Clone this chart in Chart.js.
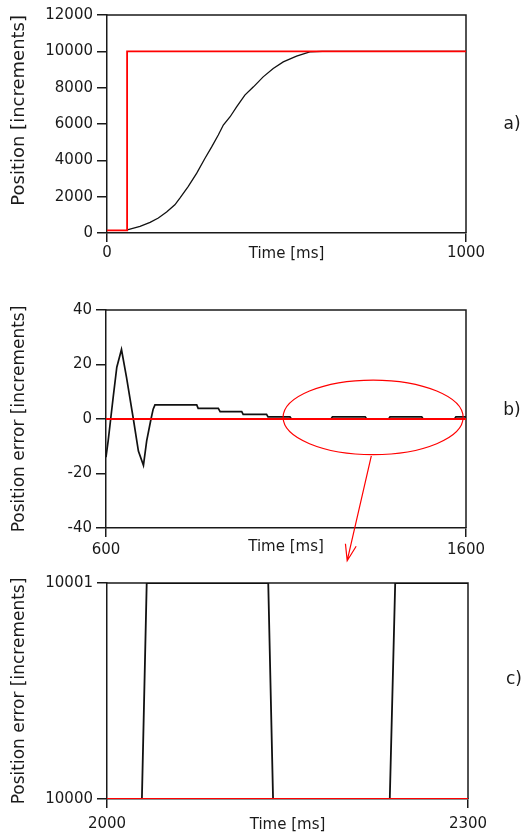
<!DOCTYPE html>
<html>
<head>
<meta charset="utf-8">
<script src="https://cdn.jsdelivr.net/npm/chart.js@4.4.1/dist/chart.umd.min.js"></script>
<style>
body{margin:0;background:#fff;}
#wrap{position:relative;width:530px;height:836px;}
canvas{position:absolute;left:0;}
</style>
</head>
<body>
<div id="wrap">
<canvas id="grafA" width="530" height="270" style="top:0px"></canvas>
<canvas id="grafB" width="530" height="275" style="top:290px"></canvas>
<canvas id="grafC" width="530" height="266" style="top:570px"></canvas>
</div>
<script>
// a) position, setpoint step and response
var aTime = [57, 59, 92, 120, 143, 166, 189, 203, 226, 250, 273, 292, 310, 324, 343, 361, 384, 408, 435, 463, 491, 528, 565, 600, 1000];
var aPos = [180, 181, 362, 582, 823, 1152, 1553, 1921, 2558, 3293, 4116, 4753, 5395, 5944, 6400, 6948, 7591, 8046, 8595, 9056, 9418, 9731, 9967, 10000, 10000];
var aRefTime = [0, 56, 56, 1000];
var aRefPos = [150, 150, 10000, 10000];
var aXTicks = [0, 1000];
var aYTicks = [0, 2000, 4000, 6000, 8000, 10000, 12000];

// b) position error
var bTime = [600, 606, 613, 620, 630, 643, 657, 676, 690, 704, 713, 725, 731, 736, 852, 856, 912, 917, 977, 981,
             1046, 1050, 1111, 1115, 1225, 1229, 1320, 1324, 1385, 1389, 1477, 1481, 1568, 1572, 1600];
var bErr = [-14, -8, 0, 8, 19, 25.5, 15.3, 0, -11.8, -17, -8, 0, 3.6, 5.2, 5.2, 3.9, 3.9, 2.7, 2.7, 1.7,
            1.7, 0.8, 0.8, 0, 0, 0.8, 0.8, 0, 0, 0.8, 0.8, 0, 0, 0.8, 0.8];
var bRefTime = [600, 1600];
var bRefErr = [0, 0];
var bXTicks = [600, 1600];
var bYTicks = [-40, -20, 0, 20, 40];
// zoomed region (data units)
var bZoomCenter = [1342, 0.6];
var bZoomRadius = [250, 13.7];
var bArrowFrom = [1337, -13.5];
var bArrowTo = [1270, -52];

// c) detail
var cTime = [2000, 2029, 2033, 2134, 2138, 2235, 2239.5, 2300];
var cPos = [10000, 10000, 10001, 10001, 10000, 10000, 10001, 10001];
var cRefTime = [2000, 2300];
var cRefPos = [10000, 10000];
var cXTicks = [2000, 2300];
var cYTicks = [10000, 10001];

var fuente = {family: "DejaVu Sans", size: 15};
var tinta = "#1a1a1a";

function puntos(xs, ys) {
    return xs.map(function (x, i) { return {x: x, y: ys[i]} })
}
function fijarTicks(valores) {
    return function (scale) {
        scale.ticks = valores.map(function (v) { return {value: v} })
    }
}

// top and right border of the plot box
var marco = {
    id: "marco",
    beforeDatasetsDraw: function (chart) {
        var a = chart.chartArea, ctx = chart.ctx;
        ctx.save();
        ctx.strokeStyle = tinta;
        ctx.lineWidth = 1.5;
        ctx.beginPath();
        ctx.moveTo(a.left, a.top);
        ctx.lineTo(a.right, a.top);
        ctx.lineTo(a.right, a.bottom);
        ctx.stroke();
        ctx.restore();
    }
};

// "a)", "b)", "c)"
var etiqueta = {
    id: "etiqueta",
    afterDraw: function (chart, args, opts) {
        var a = chart.chartArea, ctx = chart.ctx;
        ctx.save();
        ctx.fillStyle = tinta;
        ctx.font = "17px 'DejaVu Sans'";
        ctx.textAlign = "center";
        ctx.textBaseline = "middle";
        ctx.fillText(opts.text, a.right + 46, (a.top + a.bottom) / 2 + opts.dy);
        ctx.restore();
    }
};

// ellipse + arrow on chart b
var lupa = {
    id: "lupa",
    afterDatasetsDraw: function (chart, args, opts) {
        if (!opts.center) return;
        var xs = chart.scales.x, ys = chart.scales.y, ctx = chart.ctx;
        var cx = xs.getPixelForValue(opts.center[0]);
        var cy = ys.getPixelForValue(opts.center[1]);
        var rx = Math.abs(xs.getPixelForValue(opts.center[0] + opts.radius[0]) - cx);
        var ry = Math.abs(ys.getPixelForValue(opts.center[1] + opts.radius[1]) - cy);
        var x0 = xs.getPixelForValue(opts.from[0]), y0 = ys.getPixelForValue(opts.from[1]);
        var x1 = xs.getPixelForValue(opts.to[0]), y1 = ys.getPixelForValue(opts.to[1]);
        var ang = Math.atan2(y1 - y0, x1 - x0);
        ctx.save();
        ctx.strokeStyle = "#ff0000";
        ctx.lineWidth = 1.2;
        ctx.beginPath();
        ctx.ellipse(cx, cy, rx, ry, 0, 0, Math.PI * 2);
        ctx.stroke();
        ctx.beginPath();
        ctx.moveTo(x0, y0);
        ctx.lineTo(x1, y1);
        ctx.moveTo(x1 + 17 * Math.cos(ang + Math.PI - 0.33), y1 + 17 * Math.sin(ang + Math.PI - 0.33));
        ctx.lineTo(x1, y1);
        ctx.lineTo(x1 + 17 * Math.cos(ang + Math.PI + 0.33), y1 + 17 * Math.sin(ang + Math.PI + 0.33));
        ctx.stroke();
        ctx.restore();
    }
};

function opciones(cfg) {
    var borde = {color: tinta, width: 1.5};
    return {
        responsive: false,
        animation: false,
        layout: {padding: {left: 0, right: cfg.right, top: cfg.top, bottom: 0}},
        elements: {point: {radius: 0}, line: {tension: 0}},
        plugins: {
            legend: {display: false},
            tooltip: {enabled: false},
            etiqueta: {text: cfg.label, dy: cfg.dy},
            lupa: cfg.lupa || {}
        },
        scales: {
            x: {
                type: "linear", min: cfg.xMin, max: cfg.xMax,
                afterBuildTicks: fijarTicks(cfg.xTicks),
                afterFit: function (s) { s.height = cfg.xHeight },
                grid: {drawOnChartArea: false, drawTicks: true, tickLength: 9, color: tinta, lineWidth: 1.5},
                border: borde,
                ticks: {color: tinta, font: fuente, padding: cfg.xPad, maxRotation: 0, autoSkip: false,
                        callback: function (v) { return String(v) }},
                title: {display: true, text: "Time [ms]", color: tinta, font: fuente,
                        padding: {top: 0, bottom: cfg.titlePad}}
            },
            y: {
                type: "linear", min: cfg.yMin, max: cfg.yMax,
                afterBuildTicks: fijarTicks(cfg.yTicks),
                afterFit: function (s) { s.width = cfg.yWidth },
                grid: {drawOnChartArea: false, drawTicks: true, tickLength: 10, color: tinta, lineWidth: 1.5},
                border: borde,
                ticks: {color: tinta, font: fuente, padding: 4, autoSkip: false,
                        callback: function (v) { return String(v) }},
                title: {display: true, text: cfg.yTitle, color: tinta, align: cfg.yAlign,
                        font: {family: "DejaVu Sans", size: cfg.ySize},
                        padding: {top: 9, bottom: 0}}
            }
        }
    };
}

new Chart(document.getElementById("grafA"), {
    type: "line",
    data: {datasets: [
        {data: puntos(aRefTime, aRefPos), borderColor: "#ff0000", borderWidth: 1.8},
        {data: puntos(aTime, aPos), borderColor: "#111", borderWidth: 1.3}
    ]},
    options: opciones({right: 64, top: 15, xHeight: 37, xPad: 2, titlePad: 7,
        xMin: 0, xMax: 1000, xTicks: aXTicks, yMin: 0, yMax: 12000, yTicks: aYTicks, yWidth: 107,
        yTitle: "Position [increments]", yAlign: "end", ySize: 18, label: "a)", dy: 1}),
    plugins: [marco, etiqueta]
});

new Chart(document.getElementById("grafB"), {
    type: "line",
    data: {datasets: [
        {data: puntos(bRefTime, bRefErr), borderColor: "#ff0000", borderWidth: 1.8},
        {data: puntos(bTime, bErr), borderColor: "#111", borderWidth: 1.7}
    ]},
    options: opciones({right: 64, top: 20, xHeight: 37, xPad: 4, titlePad: 9,
        xMin: 600, xMax: 1600, xTicks: bXTicks, yMin: -40, yMax: 40, yTicks: bYTicks, yWidth: 106,
        yTitle: "Position error [increments]", yAlign: "center", ySize: 17, label: "b)", dy: -8,
        lupa: {center: bZoomCenter, radius: bZoomRadius, from: bArrowFrom, to: bArrowTo}}),
    plugins: [marco, etiqueta, lupa]
});

new Chart(document.getElementById("grafC"), {
    type: "line",
    data: {datasets: [
        {data: puntos(cRefTime, cRefPos), borderColor: "#ff0000", borderWidth: 2},
        {data: puntos(cTime, cPos), borderColor: "#111", borderWidth: 1.8}
    ]},
    options: opciones({right: 62, top: 13, xHeight: 37, xPad: 7, titlePad: 2,
        xMin: 2000, xMax: 2300, xTicks: cXTicks, yMin: 10000, yMax: 10001, yTicks: cYTicks, yWidth: 107,
        yTitle: "Position error [increments]", yAlign: "center", ySize: 17, label: "c)", dy: -11}),
    plugins: [marco, etiqueta]
});
</script>
</body>
</html>
